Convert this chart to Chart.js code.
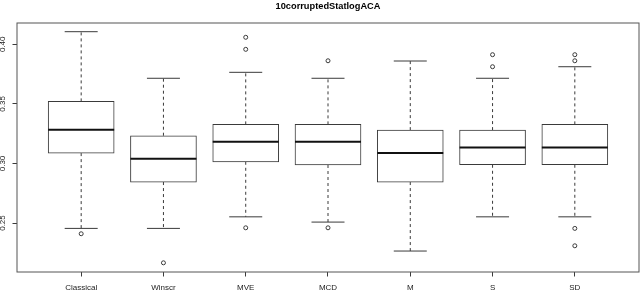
<!DOCTYPE html>
<html>
<head>
<meta charset="utf-8">
<script src="https://cdn.jsdelivr.net/npm/chart.js@4/dist/chart.umd.min.js"></script>
<style>
body{margin:0;background:#fff;}
canvas{display:block;}
</style>
</head>
<body>
<canvas id="box" width="640" height="290"></canvas>
<script>

/* ================= DATA ================= */
let categories = ["Classical","Winscr","MVE","MCD","M","S","SD"];

let whiskerLow  = [0.2455, 0.2455, 0.2552, 0.2508, 0.2265, 0.2552, 0.2552];
let q1          = [0.3087, 0.2844, 0.3014, 0.2987, 0.2844, 0.2989, 0.2989];
let median      = [0.3283, 0.3039, 0.3182, 0.3182, 0.3087, 0.3135, 0.3135];
let q3          = [0.3521, 0.3233, 0.3328, 0.3328, 0.3280, 0.3280, 0.3328];
let whiskerHigh = [0.4106, 0.3715, 0.3765, 0.3715, 0.3860, 0.3715, 0.3812];

let outliers = [
[0.2410],
[0.2166],
[0.4059, 0.3958, 0.2460],
[0.3862, 0.2460],
[],
[0.3913, 0.3812],
[0.3913, 0.3862, 0.2455, 0.2309]
];

let yTicks = [0.25, 0.30, 0.35, 0.40];

let title = "10corruptedStatlogACA";


/* ================= BUILD DATASETS ================= */
let boxData = [], medData = [], capData = [], whiskData = [], outData = [];

categories.forEach((c,i)=>{
let x = i + 1;
boxData.push({x:x, y:[q1[i], q3[i]]});
medData.push({x:x, y:median[i]});
capData.push({x:x, y:whiskerHigh[i]});
capData.push({x:x, y:whiskerLow[i]});
whiskData.push({x:x, y:q3[i]}, {x:x, y:whiskerHigh[i]}, {x:x, y:null});
whiskData.push({x:x, y:q1[i]}, {x:x, y:whiskerLow[i]}, {x:x, y:null});
outliers[i].forEach(v=>{
outData.push({x:x, y:v});
});
});

let lineCol = "#3a3a3a";


/* ================= FRAME ================= */
const framePlugin = {
id: "frame",
afterDraw(chart){
let a = chart.chartArea;
let ctx = chart.ctx;
ctx.save();
ctx.strokeStyle = "#555";
ctx.lineWidth = 1;
ctx.strokeRect(a.left, a.top, a.right - a.left, a.bottom - a.top);
ctx.restore();
}
};


/* ================= CHART ================= */
new Chart(document.getElementById("box"), {
type: "bar",
data: {
datasets: [
{
type: "line",
data: whiskData,
borderColor: lineCol,
borderWidth: 1,
borderDash: [3,3],
pointRadius: 0,
spanGaps: false,
order: 5
},
{
type: "bar",
data: boxData,
backgroundColor: "#fff",
borderColor: lineCol,
borderWidth: 1,
borderSkipped: false,
barThickness: 66,
order: 4
},
{
type: "scatter",
data: capData,
pointStyle: "line",
radius: 16.5,
borderColor: lineCol,
borderWidth: 1,
order: 3
},
{
type: "scatter",
data: medData,
pointStyle: "line",
radius: 33,
borderColor: "#111",
borderWidth: 2,
order: 2
},
{
type: "scatter",
data: outData,
pointStyle: "circle",
radius: 2,
backgroundColor: "rgba(0,0,0,0)",
borderColor: lineCol,
borderWidth: 1,
order: 1
}
]
},
options: {
responsive: false,
animation: false,
devicePixelRatio: 1,
events: [],
layout: {autoPadding: false, padding: {right: 1}},
plugins: {
legend: {display: false},
tooltip: {enabled: false},
title: {
display: true,
text: title,
fullSize: false,
color: "#000",
font: {family: "Liberation Sans, Arial, sans-serif", size: 9.25, weight: "bold"},
padding: {top: 0.5, bottom: 11.4}
}
},
scales: {
x: {
type: "linear",
min: 0.22,
max: 7.78,
offset: false,
afterBuildTicks: s=>{ s.ticks = categories.map((c,i)=>({value:i+1})); },
afterFit: s=>{ s.height = 18; s.paddingLeft = 0; s.paddingRight = 0; },
grid: {offset: false, drawOnChartArea: false, tickLength: 4.5, color: lineCol},
border: {display: false},
ticks: {
autoSkip: false,
maxRotation: 0,
padding: 6,
color: "#222",
font: {family: "Liberation Sans, Arial, sans-serif", size: 8},
callback: v=>categories[v-1]
}
},
y: {
min: 0.2089,
max: 0.4179,
afterBuildTicks: s=>{ s.ticks = yTicks.map(v=>({value:v})); },
afterFit: s=>{ s.width = 17; s.paddingTop = 0; s.paddingBottom = 0; },
grid: {drawOnChartArea: false, tickLength: 4.5, color: lineCol},
border: {display: false},
ticks: {
minRotation: 90,
maxRotation: 90,
crossAlign: "center",
padding: 1.5,
color: "#222",
font: {family: "Liberation Sans, Arial, sans-serif", size: 8},
callback: v=>v.toFixed(2)
}
}
}
},
plugins: [framePlugin]
});

</script>
</body>
</html>
